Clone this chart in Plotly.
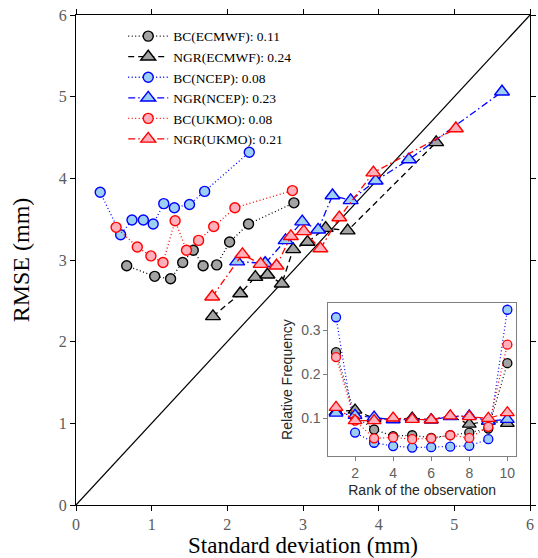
import plotly.graph_objects as go

# ---- main panel data: standard deviation (x) vs RMSE (y) ----
bc_ecmwf_sd = [0.67, 1.04, 1.25, 1.41, 1.55, 1.68, 1.86, 2.03, 2.28, 2.88]
bc_ecmwf_rmse = [2.93, 2.80, 2.77, 2.97, 3.12, 2.93, 2.94, 3.22, 3.44, 3.70]
ngr_ecmwf_sd = [1.81, 2.17, 2.37, 2.53, 2.72, 2.87, 3.06, 3.30, 3.59, 4.76]
ngr_ecmwf_rmse = [2.31, 2.59, 2.79, 2.82, 2.71, 3.13, 3.22, 3.39, 3.36, 4.44]
bc_ncep_sd = [0.32, 0.59, 0.74, 0.89, 1.02, 1.16, 1.30, 1.50, 1.70, 2.29]
bc_ncep_rmse = [3.83, 3.31, 3.49, 3.49, 3.44, 3.69, 3.64, 3.68, 3.84, 4.32]
ngr_ncep_sd = [2.13, 2.50, 2.77, 2.99, 3.20, 3.39, 3.63, 3.96, 4.40, 5.63]
ngr_ncep_rmse = [2.98, 2.96, 3.24, 3.47, 3.37, 3.79, 3.73, 3.97, 4.23, 5.06]
bc_ukmo_sd = [0.53, 0.81, 0.99, 1.15, 1.31, 1.46, 1.62, 1.82, 2.10, 2.86]
bc_ukmo_rmse = [3.40, 3.16, 3.05, 2.97, 3.48, 3.12, 3.24, 3.41, 3.64, 3.85]
ngr_ukmo_sd = [1.80, 2.20, 2.44, 2.65, 2.84, 3.01, 3.23, 3.48, 3.93, 5.02]
ngr_ukmo_rmse = [2.55, 3.07, 2.95, 2.93, 3.29, 3.35, 3.14, 3.52, 4.07, 4.61]

legend_names = ["BC(ECMWF): 0.11", "NGR(ECMWF): 0.24", "BC(NCEP): 0.08",
                "NGR(NCEP): 0.23", "BC(UKMO): 0.08", "NGR(UKMO): 0.21"]

# ---- inset data: rank histogram ----
ranks = [1, 2, 3, 4, 5, 6, 7, 8, 9, 10]
bc_ecmwf_freq = [0.250, 0.105, 0.075, 0.060, 0.062, 0.056, 0.062, 0.068, 0.077, 0.225]
ngr_ecmwf_freq = [0.115, 0.119, 0.100, 0.098, 0.101, 0.097, 0.105, 0.087, 0.094, 0.089]
bc_ncep_freq = [0.329, 0.068, 0.045, 0.0375, 0.034, 0.035, 0.036, 0.038, 0.053, 0.346]
ngr_ncep_freq = [0.112, 0.107, 0.103, 0.097, 0.098, 0.097, 0.104, 0.106, 0.094, 0.098]
bc_ukmo_freq = [0.239, 0.095, 0.055, 0.057, 0.053, 0.055, 0.062, 0.056, 0.081, 0.267]
ngr_ukmo_freq = [0.125, 0.095, 0.095, 0.101, 0.098, 0.097, 0.106, 0.104, 0.100, 0.113]

diag = [0, 6]

DOT = "1px,2.5px"
DASH = "6px,4px"
DASHDOT = "7px,3px,1.5px,3px"

styles = [
    dict(edge="#000000", fill="#a3a3a3", sym="circle", dash=DOT),
    dict(edge="#000000", fill="#a3a3a3", sym="triangle-up", dash=DASH),
    dict(edge="#0000ff", fill="#9dcff2", sym="circle", dash=DOT),
    dict(edge="#0000ff", fill="#9dcff2", sym="triangle-up", dash=DASHDOT),
    dict(edge="#ff0000", fill="#ffb0ba", sym="circle", dash=DOT),
    dict(edge="#ff0000", fill="#ffb0ba", sym="triangle-up", dash=DASHDOT),
]

main_x = [bc_ecmwf_sd, ngr_ecmwf_sd, bc_ncep_sd, ngr_ncep_sd, bc_ukmo_sd, ngr_ukmo_sd]
main_y = [bc_ecmwf_rmse, ngr_ecmwf_rmse, bc_ncep_rmse, ngr_ncep_rmse, bc_ukmo_rmse, ngr_ukmo_rmse]
inset_y = [bc_ecmwf_freq, ngr_ecmwf_freq, bc_ncep_freq, ngr_ncep_freq, bc_ukmo_freq, ngr_ukmo_freq]

fig = go.Figure()

fig.add_trace(go.Scatter(x=diag, y=diag, mode="lines", showlegend=False,
                         line=dict(color="black", width=1.2), hoverinfo="skip"))

for i, st in enumerate(styles):
    size = 10 if st["sym"] == "circle" else 13
    fig.add_trace(go.Scatter(
        x=main_x[i], y=main_y[i], mode="lines+markers", name=legend_names[i],
        line=dict(color=st["edge"], width=1.3, dash=st["dash"]),
        marker=dict(symbol=st["sym"], size=size, color=st["fill"],
                    line=dict(color=st["edge"], width=1.4)),
        cliponaxis=False,
    ))

for i, st in enumerate(styles):
    size = 9 if st["sym"] == "circle" else 12
    fig.add_trace(go.Scatter(
        x=ranks, y=inset_y[i], mode="lines+markers", showlegend=False,
        xaxis="x2", yaxis="y2",
        line=dict(color=st["edge"], width=1.2, dash=st["dash"]),
        marker=dict(symbol=st["sym"], size=size, color=st["fill"],
                    line=dict(color=st["edge"], width=1.3)),
        cliponaxis=False,
    ))

serif = "Liberation Serif, Times New Roman, serif"
sans = "Liberation Sans, Arial, sans-serif"

fig.update_layout(
    width=538, height=558,
    margin=dict(l=76, r=2, t=15, b=53),
    paper_bgcolor="white", plot_bgcolor="white",
    font=dict(family=serif, color="black"),
    xaxis=dict(range=[0, 6], domain=[0, 1], tickvals=[0, 1, 2, 3, 4, 5, 6],
               showgrid=False, zeroline=False, showline=True, linecolor="black",
               linewidth=1, mirror="ticks", ticks="outside", ticklen=5,
               tickcolor="black", tickfont=dict(family=serif, size=16, color="#5a5a5a"),
               title=dict(text="Standard deviation (mm)", standoff=7,
                          font=dict(family=serif, size=23, color="black"))),
    yaxis=dict(range=[0, 6], domain=[0, 1], tickvals=[0, 1, 2, 3, 4, 5, 6],
               showgrid=False, zeroline=False, showline=True, linecolor="black",
               linewidth=1, mirror="ticks", ticks="outside", ticklen=5,
               tickcolor="black", tickfont=dict(family=serif, size=16, color="#5a5a5a"),
               title=dict(text="RMSE (mm)", standoff=22,
                          font=dict(family=serif, size=24, color="black"))),
    xaxis2=dict(anchor="y2", domain=[0.556, 0.969], range=[0.6, 10.45],
                tickvals=[2, 4, 6, 8, 10], showgrid=False, zeroline=False,
                showline=True, linecolor="#7f7f7f", linewidth=1, mirror=True,
                ticks="outside", ticklen=4, tickcolor="#7f7f7f",
                tickfont=dict(family=sans, size=14, color="#606060"),
                title=dict(text="Rank of the observation", standoff=5,
                           font=dict(family=sans, size=14, color="#262626"))),
    yaxis2=dict(anchor="x2", domain=[0.100, 0.412], range=[0.015, 0.361],
                tickvals=[0.1, 0.2, 0.3], showgrid=False, zeroline=False,
                showline=True, linecolor="#7f7f7f", linewidth=1, mirror=True,
                ticks="outside", ticklen=4, tickcolor="#7f7f7f",
                tickfont=dict(family=sans, size=14, color="#606060"),
                title=dict(text="Relative Frequency", standoff=5,
                           font=dict(family=sans, size=14, color="#262626"))),
    legend=dict(x=0.104, y=0.988, xanchor="left", yanchor="top",
                bgcolor="rgba(0,0,0,0)", borderwidth=0, tracegroupgap=0,
                font=dict(family=serif, size=13.5, color="black"),
                itemwidth=40),
    showlegend=True,
)

fig.write_html("out.html")
